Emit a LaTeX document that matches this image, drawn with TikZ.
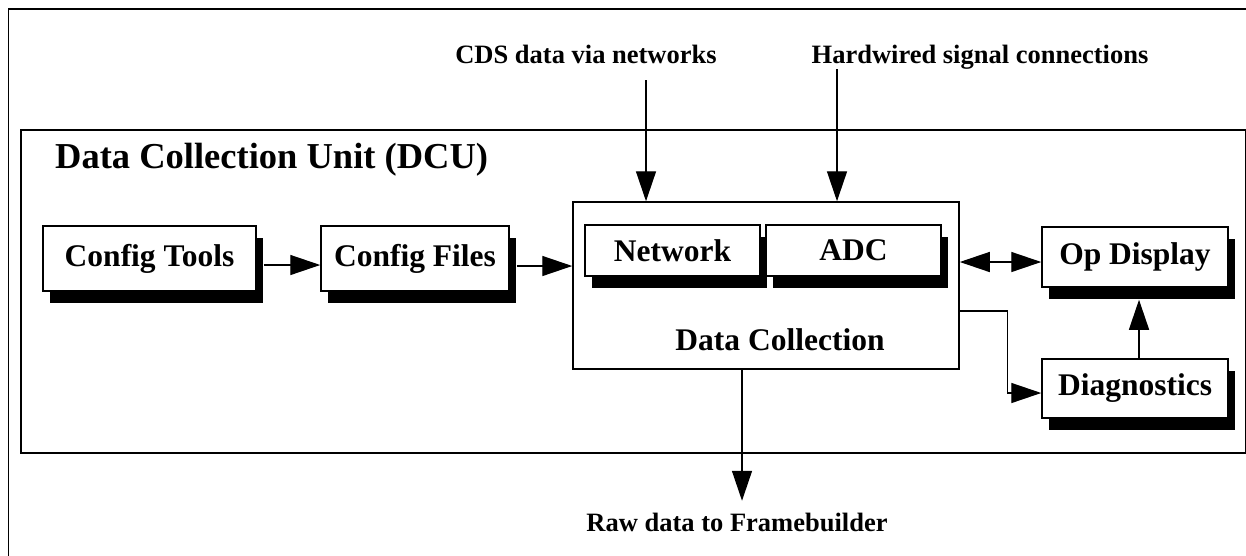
\documentclass[tikz,border=0pt]{standalone}
\usepackage{fontspec}
\setmainfont{Liberation Serif}
\usetikzlibrary{arrows.meta,shadows}
\begin{document}
\begin{tikzpicture}[x=1pt,y=-1pt,
  frame/.style={draw=black,line width=1.8pt},
  box/.style={draw=black,line width=1.5pt,fill=white,inner sep=0pt,
    font=\fontsize{31.5}{36}\selectfont\bfseries,
    drop shadow={shadow xshift=7pt,shadow yshift=-12pt,fill=black,opacity=1}},
  plainbox/.style={draw=black,line width=1.5pt,fill=white,inner sep=0pt},
  lbl/.style={font=\fontsize{26.5}{30}\selectfont\bfseries,anchor=base,inner sep=0pt},
  conn/.style={line width=1.4pt,-{Triangle[length=30pt,width=20pt]}},
  dconn/.style={line width=1.4pt,{Triangle[length=30pt,width=20pt]}-{Triangle[length=30pt,width=20pt]}},
]
\useasboundingbox (0,0) rectangle (1246,555);
\clip (0,0) rectangle (1246,555);
\fill[white] (0,0) rectangle (1246,555);
% outer frame (cut at right and bottom)
\draw[frame] (8.5,600) -- (8.5,9) -- (1300,9);
% DCU frame
\node[frame,inner sep=0pt,minimum width=1225pt,minimum height=323pt,anchor=north west] (dcu) at (20,129) {};
\node[font=\fontsize{36.5}{40}\selectfont\bfseries,anchor=base west,inner sep=0pt] (title) at (55,168) {Data Collection Unit (DCU)};
% boxes
\node[box,minimum width=213pt,minimum height=65pt] (ct) at (149.5,258.5) {Config Tools};
\node[box,minimum width=188pt,minimum height=65pt] (cf) at (415,258.5) {Config Files};
\node[plainbox,minimum width=386pt,minimum height=167pt] (dc) at (766,285.5) {};
\node[box,minimum width=175pt,minimum height=51pt] (net) at (672.5,250.5) {Network};
\node[box,minimum width=175pt,minimum height=51pt] (adc) at (853.5,250.5) {ADC};
\node[font=\fontsize{31.5}{36}\selectfont\bfseries,anchor=base,inner sep=0pt] (dclbl) at (780,350) {Data Collection};
\node[box,minimum width=186pt,minimum height=60pt] (op) at (1135,257) {Op Display};
\node[box,minimum width=186pt,minimum height=59pt] (diag) at (1135,388.5) {Diagnostics};
% external labels
\node[lbl] (cds) at (586,63) {CDS data via networks};
\node[lbl] (hw) at (980,63) {Hardwired signal connections};
\node[lbl] (raw) at (737,531) {Raw data to Framebuilder};
\coordinate (cdsin) at (646,80);
\coordinate (hwin) at (837,69);
% connectors
\draw[conn] ([xshift=7pt,yshift=-6.5pt]ct.east) coordinate (a1) -- (a1 -| cf.west);
\draw[conn] ([xshift=7pt,yshift=-7.5pt]cf.east) coordinate (a2) -- (a2 -| dc.west);
\draw[conn] (cdsin) -- (cdsin |- dc.north);
\draw[conn] (hwin) -- (hwin |- dc.north);
\draw[dconn] ([yshift=-5pt]op.west) coordinate (b) -- (b -| dc.east);
\draw[conn] ([yshift=-25.5pt]dc.east) -- ++(48,0) |- ([yshift=-4.5pt]diag.west);
\draw[conn] ([xshift=4pt]diag.north) -- ([xshift=4pt,yshift=-12pt]op.south);
\draw[conn] ([xshift=-24pt]dc.south) -- ++(0,131);
\end{tikzpicture}
\end{document}
